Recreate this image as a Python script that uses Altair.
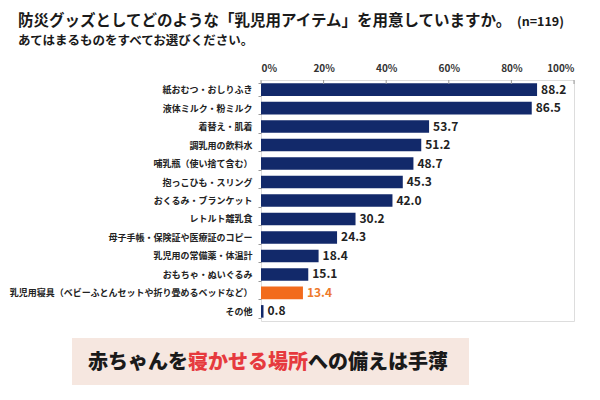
import altair as alt
import pandas as pd

categories = [
    "紙おむつ・おしりふき",
    "液体ミルク・粉ミルク",
    "着替え・肌着",
    "調乳用の飲料水",
    "哺乳瓶（使い捨て含む）",
    "抱っこひも・スリング",
    "おくるみ・ブランケット",
    "レトルト離乳食",
    "母子手帳・保険証や医療証のコピー",
    "乳児用の常備薬・体温計",
    "おもちゃ・ぬいぐるみ",
    "乳児用寝具（ベビーふとんセットや折り畳めるベッドなど）",
    "その他",
]
values = [88.2, 86.5, 53.7, 51.2, 48.7, 45.3, 42.0, 30.2, 24.3, 18.4, 15.1, 13.4, 0.8]
highlight = "乳児用寝具（ベビーふとんセットや折り畳めるベッドなど）"
ticks = [0, 20, 40, 60, 80, 100]

title_text = "防災グッズとしてどのような「乳児用アイテム」を用意していますか。"
subtitle_text = "あてはまるものをすべてお選びください。"
n_text = "(n=119)"
banner_parts = ["赤ちゃんを", "寝かせる場所", "への備えは手薄"]

FONT = "Noto Sans CJK JP"
NAVY = "#12296A"
ORANGE = "#F26B1C"
ORANGE_TXT = "#EE7A2C"
RED = "#E63A3E"

df = pd.DataFrame({"cat": categories, "v": values})
df["hl"] = df["cat"] == highlight
df["label"] = df["v"].map(lambda x: f"{x:.1f}")

xscale = alt.Scale(domain=[0, 100], nice=False, zero=True)
yscale = alt.Scale(paddingInner=0.32, paddingOuter=0.18)

x_axis = alt.Axis(orient="top", values=ticks, labelExpr="datum.value + '%'",
                  title=None, grid=False, ticks=False, domain=False,
                  labelFont=FONT, labelFontSize=10, labelFontWeight="bold",
                  labelColor="#333333", labelPadding=7)
y_axis = alt.Axis(title=None, domain=False, ticks=True, tickBand="extent",
                  tickSize=3, tickColor="#999999", labelPadding=6,
                  labelFont=FONT, labelFontSize=9, labelFontWeight="bold",
                  labelColor="#222222", labelLimit=400)

base = alt.Chart(df)

bars = base.mark_bar().encode(
    x=alt.X("v:Q", scale=xscale, axis=x_axis),
    y=alt.Y("cat:N", sort=categories, scale=yscale, axis=y_axis),
    color=alt.condition(alt.datum.hl, alt.value(ORANGE), alt.value(NAVY)),
)

labels = base.mark_text(align="left", baseline="middle", dx=4, font=FONT,
                        fontSize=12, fontWeight="bold").encode(
    x=alt.X("v:Q", scale=xscale, axis=x_axis),
    y=alt.Y("cat:N", sort=categories, scale=yscale, axis=y_axis),
    text="label:N",
    color=alt.condition(alt.datum.hl, alt.value(ORANGE_TXT), alt.value("#222222")),
)

tick_df = pd.DataFrame({"v": ticks})
tick_rules = alt.Chart(tick_df).mark_rule(color="#999999", strokeWidth=1).encode(
    x=alt.X("v:Q", scale=xscale, axis=x_axis),
    y=alt.value(0),
    y2=alt.value(4),
)

one = pd.DataFrame({"a": [0]})

title_mark = alt.Chart(one).mark_text(align="left", baseline="middle", font=FONT,
                                      fontSize=15.5, fontWeight="bold", color="#1a1a1a").encode(
    x=alt.value(-243), y=alt.value(-59), text=alt.value(title_text))
sub_mark = alt.Chart(one).mark_text(align="left", baseline="middle", font=FONT,
                                    fontSize=12.5, fontWeight="bold", color="#1a1a1a").encode(
    x=alt.value(-243), y=alt.value(-39), text=alt.value(subtitle_text))
n_mark = alt.Chart(one).mark_text(align="left", baseline="middle", font=FONT,
                                  fontSize=12.5, fontWeight="bold", color="#1a1a1a").encode(
    x=alt.value(256), y=alt.value(-58), text=alt.value(n_text))

banner = alt.Chart(one).mark_rect(color="#F6E7E0").encode(
    x=alt.value(-189), x2=alt.value(208), y=alt.value(258), y2=alt.value(305))

b1 = alt.Chart(one).mark_text(align="left", baseline="middle", font=FONT, fontSize=20,
                              fontWeight=900, color="#1a1a1a").encode(
    x=alt.value(-173), y=alt.value(283), text=alt.value(banner_parts[0]))
b2 = alt.Chart(one).mark_text(align="left", baseline="middle", font=FONT, fontSize=20,
                              fontWeight=900, color=RED).encode(
    x=alt.value(-73), y=alt.value(283), text=alt.value(banner_parts[1]))
b3 = alt.Chart(one).mark_text(align="left", baseline="middle", font=FONT, fontSize=20,
                              fontWeight=900, color="#1a1a1a").encode(
    x=alt.value(47), y=alt.value(283), text=alt.value(banner_parts[2]))

chart = alt.layer(bars, labels, tick_rules, title_mark, sub_mark, n_mark,
                  banner, b1, b2, b3).properties(
    width=313, height=241,
    autosize=alt.AutoSizeParams(type="none"),
    padding={"left": 253, "top": 72, "right": 18, "bottom": 71},
).configure_view(stroke="#999999", strokeWidth=1).configure(background="white")

chart.save("out.html", embed_options={"renderer": "svg", "actions": False})
